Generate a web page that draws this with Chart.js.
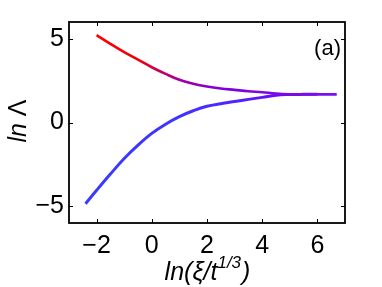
<!DOCTYPE html>
<html>
<head>
<meta charset="utf-8">
<script src="https://cdn.jsdelivr.net/npm/chart.js@4"></script>
<style>
  html, body { margin: 0; padding: 0; background: #fff; }
  #wrap { width: 382px; height: 287px; }
</style>
</head>
<body>
<div id="wrap"><canvas id="chart" width="382" height="287"></canvas></div>
<script>
// === DATA ===
const upperX = [-2, -1.5, -1, -0.5, 0, 0.5, 1, 1.5, 2, 2.5, 3, 3.5, 4, 4.5, 5, 5.5, 6, 6.4, 6.7];
const upperY = [5.22, 4.7, 4.2, 3.75, 3.3, 2.9, 2.55, 2.32, 2.15, 2.03, 1.95, 1.87, 1.81, 1.73, 1.69, 1.68, 1.68, 1.68, 1.68];
const lowerX = [-2.4, -2, -1.5, -1, -0.5, 0, 0.5, 1, 1.5, 2, 2.5, 3, 3.5, 4, 4.5, 5, 5.5, 6];
const lowerY = [-4.85, -4.05, -3.08, -2.15, -1.35, -0.65, -0.1, 0.35, 0.7, 0.97, 1.12, 1.25, 1.38, 1.5, 1.63, 1.67, 1.68, 1.68];
const xTicks = [-2, 0, 2, 4, 6];
const yTicks = [-5, 0, 5];

const toPts = (xs, ys) => xs.map((x, i) => ({ x: x, y: ys[i] }));

// horizontal colour ramp along x, built once the chart area is known
function ramp(stops) {
    return ctx => {
        const chart = ctx.chart;
        if (!chart.chartArea) return stops[0][1];
        const xs = chart.scales.x;
        const g = chart.ctx.createLinearGradient(xs.left, 0, xs.right, 0);
        stops.forEach(s => {
            const p = (xs.getPixelForValue(s[0]) - xs.left) / (xs.right - xs.left);
            g.addColorStop(Math.min(1, Math.max(0, p)), s[1]);
        });
        return g;
    };
}

const FONT = "'Liberation Sans', Arial, sans-serif";
const FS = 25;

// === FRAME, INSIDE TICKS, LABELS ===
const decor = {
    id: "decor",
    afterDraw(chart) {
        const c = chart.ctx;
        const xs = chart.scales.x, ys = chart.scales.y;
        const a = chart.chartArea;
        c.save();
        c.strokeStyle = "#000";
        c.lineWidth = 1.8;
        c.strokeRect(a.left, a.top, a.right - a.left, a.bottom - a.top);
        c.lineWidth = 1;
        c.beginPath();
        xTicks.forEach(v => {
            const px = Math.round(xs.getPixelForValue(v)) + 0.5;
            c.moveTo(px, a.bottom); c.lineTo(px, a.bottom - 4);
            c.moveTo(px, a.top); c.lineTo(px, a.top + 4);
        });
        yTicks.forEach(v => {
            const py = Math.round(ys.getPixelForValue(v)) + 0.5;
            c.moveTo(a.left, py); c.lineTo(a.left + 4, py);
            c.moveTo(a.right, py); c.lineTo(a.right - 4, py);
        });
        c.stroke();

        c.fillStyle = "#000";
        c.textBaseline = "alphabetic";
        // panel tag
        c.font = "22px " + FONT;
        c.textAlign = "right";
        c.fillText("(a)", a.right - 4, 55);

        // x title: ln(ξ/t^{1/3})
        c.textAlign = "left";
        const main = "ln(ξ/t", sup = "1/3", tail = ")";
        c.font = "italic " + FS + "px " + FONT;
        const w1 = c.measureText(main).width;
        c.font = "italic 17px " + FONT;
        const w2 = c.measureText(sup).width;
        c.font = "italic " + FS + "px " + FONT;
        const w3 = c.measureText(tail).width;
        let x0 = 207 - (w1 + w2 + w3) / 2;
        c.fillText(main, x0, 280);
        c.font = "italic 17px " + FONT;
        c.fillText(sup, x0 + w1, 268);
        c.font = "italic " + FS + "px " + FONT;
        c.fillText(tail, x0 + w1 + w2 + 1, 280);

        // y title: ln Λ
        c.translate(26, 121);
        c.rotate(-Math.PI / 2);
        c.font = "italic " + FS + "px " + FONT;
        const a1 = c.measureText("ln ").width;
        c.font = FS + "px " + FONT;
        const a2 = c.measureText("Λ").width;
        c.font = "italic " + FS + "px " + FONT;
        c.fillText("ln ", -(a1 + a2) / 2, 0);
        c.font = FS + "px " + FONT;
        c.fillText("Λ", -(a1 + a2) / 2 + a1, 0);
        c.restore();
    }
};

new Chart(document.getElementById("chart"), {
    type: "scatter",
    data: {
        datasets: [{
            data: toPts(upperX, upperY),
            showLine: true,
            pointRadius: 0,
            borderWidth: 2.6,
            tension: 0.4,
            borderColor: ramp([[-2, "#ff0000"], [-0.5, "#f0000c"], [1, "#a000a0"], [2.5, "#8000d8"], [6.7, "#7a10f0"]])
        }, {
            data: toPts(lowerX, lowerY),
            showLine: true,
            pointRadius: 0,
            borderWidth: 3,
            tension: 0.4,
            borderColor: ramp([[-2.4, "#3a3aff"], [1, "#3e34ff"], [3, "#5222ff"], [4.5, "#6a08f8"], [6, "#7010f0"]])
        }]
    },
    options: {
        responsive: false,
        animation: false,
        layout: { padding: { top: 22, right: 37, left: 0, bottom: 0 } },
        plugins: { legend: { display: false }, tooltip: { enabled: false } },
        scales: {
            x: {
                min: -3, max: 7,
                afterFit: s => { s.height = 64; },
                afterBuildTicks: s => { s.ticks = xTicks.map(v => ({ value: v })); },
                grid: { display: false, drawTicks: false },
                border: { display: false },
                ticks: {
                    padding: 8,
                    color: "#000",
                    font: { family: FONT, size: FS },
                    callback: v => String(v).replace("-", "\u2212")
                }
            },
            y: {
                min: -6, max: 6,
                afterFit: s => { s.width = 69; },
                afterBuildTicks: s => { s.ticks = yTicks.map(v => ({ value: v })); },
                grid: { display: false, drawTicks: false },
                border: { display: false },
                ticks: {
                    padding: 5,
                    color: "#000",
                    font: { family: FONT, size: FS },
                    callback: v => String(v).replace("-", "\u2212")
                }
            }
        }
    },
    plugins: [decor]
});
</script>
</body>
</html>
